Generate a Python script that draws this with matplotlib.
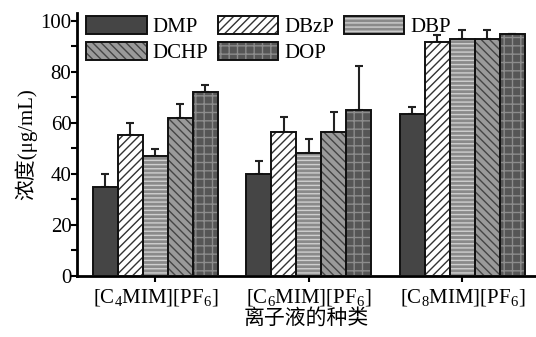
import numpy as np
import matplotlib
matplotlib.use('Agg')
import matplotlib.pyplot as plt
from matplotlib.patches import Patch
from matplotlib.legend_handler import HandlerTuple

plt.rcParams['font.family'] = ['Liberation Serif', 'Noto Sans CJK SC']
plt.rcParams['mathtext.default'] = 'regular'
plt.rcParams['hatch.linewidth'] = 1.0

# data
groups = ['[C$_4$MIM][PF$_6$]', '[C$_6$MIM][PF$_6$]', '[C$_8$MIM][PF$_6$]']
series = ['DMP', 'DBzP', 'DBP', 'DCHP', 'DOP']
DMP = [35.0, 40.0, 63.3]
DBzP = [55.1, 56.4, 91.5]
DBP = [46.9, 48.3, 93.0]
DCHP = [61.9, 56.3, 93.0]
DOP = [72.0, 65.0, 94.8]
DMP_err = [5.0, 5.0, 2.8]
DBzP_err = [5.0, 6.0, 3.0]
DBP_err = [2.8, 5.5, 3.2]
DCHP_err = [5.4, 8.0, 3.2]
DOP_err = [2.8, 17.2, 0.0]

values = [DMP, DBzP, DBP, DCHP, DOP]
errors = [DMP_err, DBzP_err, DBP_err, DCHP_err, DOP_err]

# face colour, hatch, hatch colour
styles = [
    ('#454545', None, '#454545'),
    ('white', '////', '#333333'),
    ('#8a8a8a', '----', '#cfcfcf'),
    ('#9a9a9a', '\\\\\\\\', '#454545'),
    ('#565656', '++', '#8c8c8c'),
]

fs = 15

fig = plt.figure(figsize=(5.36, 3.37), dpi=100)
ax = fig.add_axes([0.1437, 0.181, 0.8563, 0.78])

x = np.arange(len(groups))
w = 0.163
handles = []
for i, (vals, errs) in enumerate(zip(values, errors)):
    fc, hatch, hc = styles[i]
    pos = x + (i - 2) * w
    ax.bar(pos, vals, w, color=fc, hatch=hatch, edgecolor=hc, linewidth=0, zorder=2)
    ax.bar(pos, vals, w, fill=False, edgecolor='#111111', linewidth=1.4, zorder=3)
    ax.errorbar(pos, vals, yerr=[np.zeros(len(errs)), errs], fmt='none',
                ecolor='#222222', elinewidth=1.5, capsize=3, capthick=1.5, zorder=1)
    p1 = Patch(facecolor=fc, hatch=hatch, edgecolor=hc, linewidth=0)
    p2 = Patch(fill=False, edgecolor='#111111', linewidth=1.4)
    handles.append((p1, p2))

ax.set_xlim(-0.51, 2.48)
ax.set_ylim(0, 103)
ax.set_yticks(np.arange(0, 101, 20))
ax.set_yticks(np.arange(10, 100, 20), minor=True)
ax.set_xticks(x)
ax.set_xticklabels(groups, fontsize=fs)
ax.tick_params(axis='y', labelsize=fs, width=1.5, length=4, pad=0)
ax.tick_params(axis='y', which='minor', width=1.5, length=4)
ax.tick_params(axis='x', width=1.5, length=4, pad=4)
for s in ['top', 'right']:
    ax.spines[s].set_visible(False)
for s in ['left', 'bottom']:
    ax.spines[s].set_linewidth(2)

ax.set_ylabel('浓度(μg/mL)', fontsize=15, labelpad=2)
ax.set_xlabel('离子液的种类', fontsize=15, labelpad=1)

order = [0, 3, 1, 4, 2]
ax.legend([handles[k] for k in order], [series[k] for k in order],
          handler_map={tuple: HandlerTuple(ndivide=1)},
          ncol=3, loc='upper left', bbox_to_anchor=(-0.012, 1.045), frameon=False,
          fontsize=fs, handlelength=2.9, handleheight=0.95, handletextpad=0.3,
          columnspacing=0.45, labelspacing=0.25, borderaxespad=0.3)

fig.savefig('out.png', dpi=100)
